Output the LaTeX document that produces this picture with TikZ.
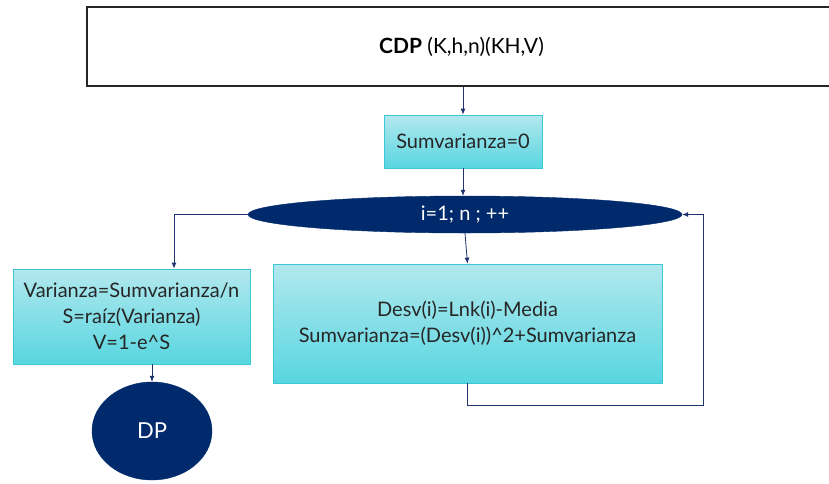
\documentclass[tikz,border=0pt]{standalone}
\usepackage{fontspec}
\setmainfont{Lato}
\usetikzlibrary{shapes.geometric,arrows.meta}
\definecolor{navy}{RGB}{0,42,108}
\definecolor{cyantop}{RGB}{178,232,238}
\definecolor{cyanbot}{RGB}{88,214,224}
\definecolor{cyanline}{RGB}{60,200,215}
\definecolor{arrowcol}{RGB}{30,50,110}
\tikzset{
  procbox/.style={draw=cyanline, line width=0.8pt, top color=cyantop, bottom color=cyanbot,
    align=center, inner sep=0pt, font=\fontsize{20}{26}\selectfont, text=black!85},
  navyshape/.style={ellipse, fill=navy, draw=navy, inner sep=0pt, text=white},
  arr/.style={draw=arrowcol, line width=0.8pt, -{Latex[length=6pt,width=5pt]}},
  plainline/.style={draw=arrowcol, line width=0.8pt}
}
\begin{document}
\begin{tikzpicture}[x=1pt,y=-1pt]
\useasboundingbox (0,0) rectangle (829,483);
\begin{scope}
\clip (0,0) rectangle (829,483);
\node[draw=black!85, line width=1.8pt, fill=white, minimum width=749, minimum height=79, inner sep=0pt,
  font=\fontsize{21}{24}\selectfont] (top) at (461.5,46.5) {\textbf{CDP} (K,h,n)(KH,V)};
\node[procbox, minimum width=158, minimum height=53] (sum) at (463,141.5) {Sumvarianza=0};
\node[navyshape, minimum width=434, minimum height=37, font=\fontsize{20}{22}\selectfont] (loop) at (465,214.5) {i=1; n ; ++};
\node[procbox, minimum width=389, minimum height=119] (body) at (467.5,323.5)
  {Desv(i)=Lnk(i)-Media\\Sumvarianza=(Desv(i))\^{}2+Sumvarianza};
\node[procbox, minimum width=237, minimum height=95] (left) at (131.5,316.5)
  {Varianza=Sumvarianza/n\\S=raíz(Varianza)\\V=1-e\^{}S};
\node[navyshape, minimum width=120, minimum height=98, font=\fontsize{22}{24}\selectfont] (dp) at (152,431) {DP};
\coordinate (loopcorner) at (703,405);
\coordinate (leftturn) at (174,214.5);
\draw[arr] (sum.north |- top.south) -- (sum.north);
\draw[arr] (sum.south) -- (sum.south |- loop.north);
\draw[arr] (loop.south) -- (body.north);
\draw[arr] (body.south) |- (loopcorner) |- (loop.east);
\draw[plainline] (loop.west) -- (leftturn);
\draw[arr] (leftturn) -- (leftturn |- left.north);
\draw[arr] (dp.north |- left.south) -- (dp.north);
\end{scope}
\end{tikzpicture}
\end{document}
